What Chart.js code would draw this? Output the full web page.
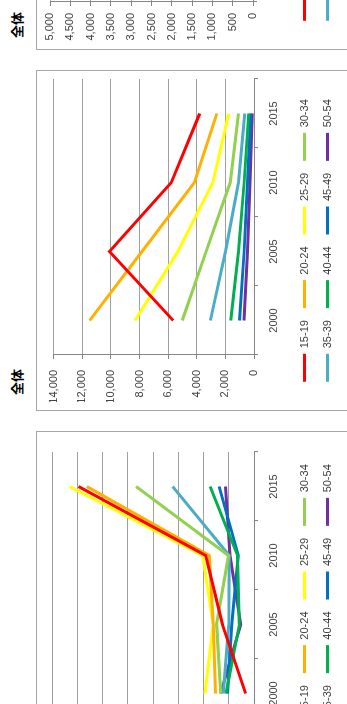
<!DOCTYPE html>
<html lang="ja">
<head>
<meta charset="UTF-8">
<title>全体</title>
<script src="https://cdn.jsdelivr.net/npm/chart.js"></script>
<style>
  html, body { margin: 0; padding: 0; background: #fff; overflow: hidden; width: 347px; height: 704px; }
  /* the sheet is laid out landscape and turned a quarter to the left */
  #sheet { position: absolute; left: 0; top: 0; width: 704px; height: 347px;
           transform-origin: 0 0; transform: translate(0, 704px) rotate(-90deg); }
  .box { position: absolute; top: 36px; width: 341px; height: 340px; border: 1px solid #a6a6a6; box-sizing: border-box; }
  .title { position: absolute; top: 9px; font: bold 13px/15px "Noto Sans CJK JP", sans-serif; color: #000; }
  canvas { position: absolute; top: 36px; }
</style>
</head>
<body>
<div id="sheet">
  <div class="box" style="left:-68px"></div>
  <div class="box" style="left:293px"></div>
  <div class="box" style="left:654px"></div>
  <div class="title" style="left:-52px">全体</div>
  <div class="title" style="left:309px">全体</div>
  <div class="title" style="left:666px">全体</div>
  <canvas id="leftChart" width="341" height="340" style="left:-68px"></canvas>
  <canvas id="midChart" width="341" height="340" style="left:293px"></canvas>
  <canvas id="rightChart" width="341" height="340" style="left:654px"></canvas>
</div>

<script>
const years = ['2000', '2005', '2010', '2015'];
const groups = ['15-19', '20-24', '25-29', '30-34', '35-39', '40-44', '45-49', '50-54'];
const colors = ['#FF0000', '#FFB000', '#FFFF00', '#92D050', '#4BACC6', '#00B050', '#0070C0', '#7030A0'];

// one row per age group, in the order of groups
const leftValues = [
  [330, 1250, 1910, 6950],
  [1520, 1610, 1770, 6620],
  [1940, 1610, 2030, 7300],
  [1320, 1480, 1010, 4670],
  [1220, 1000, 980, 3220],
  [1110, 580, 650, 1740],
  [1050, 880, 620, 1380],
  [1320, 530, 950, 1130]
];
const midValues = [
  [5640, 10100, 5780, 3790],
  [11480, 7820, 4160, 2590],
  [8320, 5320, 2870, 1760],
  [5010, 3340, 1660, 1090],
  [3050, 1990, 1090, 650],
  [1620, 1090, 690, 370],
  [1020, 690, 460, 230],
  [690, 460, 280, 120]
];
const rightValues = [
  [2060, 3650, 2110, 1380],
  [4150, 2830, 1510, 950],
  [3010, 1920, 1040, 640],
  [1810, 1210, 600, 400],
  [1100, 720, 400, 240],
  [590, 400, 250, 140],
  [370, 250, 170, 90],
  [250, 170, 100, 50]
];

Chart.defaults.font.family = '"Liberation Sans", Arial, sans-serif';
Chart.defaults.font.size = 11;
Chart.defaults.color = '#404040';

function makeChart(id, values, o) {
  new Chart(document.getElementById(id), {
    type: 'line',
    data: {
      labels: years,
      datasets: groups.map((g, i) => ({
        label: g,
        data: values[i],
        borderColor: colors[i],
        backgroundColor: colors[i],
        borderWidth: 3,
        pointRadius: 0,
        tension: 0,
        fill: false
      }))
    },
    options: {
      responsive: false,
      animation: false,
      layout: { padding: { left: o.padLeft, right: o.padRight, top: o.padTop, bottom: 33 } },
      plugins: {
        legend: {
          position: 'bottom',
          labels: { usePointStyle: true, pointStyle: 'line', pointStyleWidth: 28, padding: 12 }
        },
        tooltip: { enabled: false }
      },
      scales: {
        x: {
          offset: true,
          grid: { offset: true, drawOnChartArea: false, tickLength: 4, color: '#868686' },
          border: { color: '#868686' },
          ticks: { padding: 9, maxRotation: 0, autoSkip: false },
          afterFit: s => { s.height = o.xHeight; }
        },
        y: {
          min: 0,
          max: o.yMax,
          ticks: { stepSize: o.yStep, padding: o.yPad, callback: v => v.toLocaleString('en-US') },
          grid: { color: '#a0a0a0', tickLength: 4, tickColor: '#868686' },
          border: { color: '#868686' },
          afterFit: s => { s.width = o.yWidth; }
        }
      }
    }
  });
}

makeChart('leftChart', leftValues, { yMax: 8000, yStep: 1000, padLeft: 13, padRight: 21, padTop: 16, yWidth: 31, xHeight: 33, yPad: 8 });
makeChart('midChart', midValues, { yMax: 14000, yStep: 2000, padLeft: 9, padRight: 9, padTop: 16, yWidth: 47, xHeight: 33, yPad: 11 });
makeChart('rightChart', rightValues, { yMax: 5000, yStep: 500, padLeft: 9, padRight: 9, padTop: 14, yWidth: 39, xHeight: 34, yPad: 7 });
</script>
</body>
</html>
